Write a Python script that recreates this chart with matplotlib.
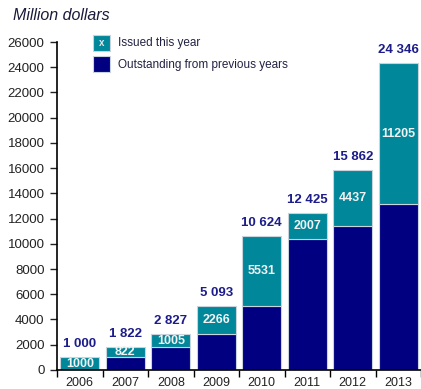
import matplotlib
matplotlib.use("Agg")
from matplotlib import pyplot as plt
import numpy as np

plt.rcParams['font.family'] = ['Liberation Sans', 'DejaVu Sans']

years = ['2006', '2007', '2008', '2009', '2010', '2011', '2012', '2013']
totals = [1000, 1822, 2827, 5093, 10624, 12425, 15862, 24346]
issued = [1000, 822, 1005, 2266, 5531, 2007, 4437, 11205]
outstanding = [0, 1000, 1822, 2827, 5093, 10418, 11425, 13141]
total_labels = ['1 000', '1 822', '2 827', '5 093', '10 624', '12 425', '15 862', '24 346']

teal = '#00879a'
navy = '#000080'
edge = '#c9d3dc'

fig = plt.figure(figsize=(4.21, 3.89), dpi=100)
ax = fig.add_axes([0.1354, 0.049, 0.8646, 0.843])

x = np.arange(len(years))
w = 0.85
b_out = ax.bar(x, outstanding, w, color=navy, edgecolor=edge, linewidth=0.8,
               label='Outstanding from previous years')
b_iss = ax.bar(x, issued, w, bottom=outstanding, color=teal, edgecolor=edge, linewidth=0.8,
               label='Issued this year')

# value labels
for i in range(len(years)):
    ax.text(x[i], outstanding[i] + issued[i] / 2, str(issued[i]), ha='center', va='center',
            color='#f2f2f2', fontsize=9, fontweight='bold')
    ax.text(x[i], totals[i] + 550, total_labels[i], ha='center', va='bottom',
            color='#1c1c8a', fontsize=9.5, fontweight='bold')

ax.set_xlim(-0.5, 7.5)
ax.set_ylim(0, 26000)
ax.set_yticks(range(0, 26001, 2000))
ax.tick_params(axis='y', labelsize=9.5, length=5, width=1, colors='#222222', pad=4)
ax.set_xticks(np.arange(-0.5, 7.6, 1))
ax.set_xticklabels([])
ax.set_xticks(x, minor=True)
ax.set_xticklabels(years, minor=True, fontsize=9, color='#222222')
ax.tick_params(axis='x', which='major', length=5, width=1)
ax.tick_params(axis='x', which='minor', length=0, pad=5)
for s in ['top', 'right']:
    ax.spines[s].set_visible(False)
ax.spines['left'].set_linewidth(1.2)
ax.spines['bottom'].set_linewidth(1.2)

leg = ax.legend(handles=[b_iss, b_out], loc='upper left', bbox_to_anchor=(0.07, 1.055),
                frameon=False, fontsize=8.5, handlelength=1.45, handleheight=1.7,
                handletextpad=0.7, labelspacing=0.45)
for t in leg.get_texts():
    t.set_color('#222244')

# small white "x" inside the teal legend key, as in the source
fig.canvas.draw()
bb = leg.get_patches()[0].get_window_extent()
inv = fig.transFigure.inverted()
cx, cy = inv.transform(((bb.x0 + bb.x1) / 2, (bb.y0 + bb.y1) / 2))
fig.text(cx, cy, 'x', color='#e8e8e8', fontsize=7, fontweight='bold', ha='center', va='center')

fig.text(0.03, 0.96, 'Million dollars', fontsize=11.5, style='italic', color='#1a1a3a',
         va='center')

fig.savefig('out.png', dpi=100)
